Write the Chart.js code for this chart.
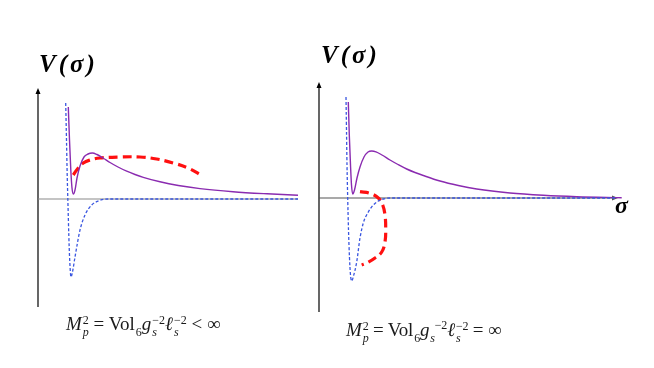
<!DOCTYPE html>
<html>
<head>
<meta charset="utf-8">
<script src="https://cdn.jsdelivr.net/npm/chart.js@4.4.1/dist/chart.umd.min.js"></script>
<style>
  html, body { margin: 0; padding: 0; background: #fff; }
  #wrap { position: relative; width: 654px; height: 368px; overflow: hidden; }
  canvas { position: absolute; left: 0; top: 0; }
  .lbl { position: absolute; font-family: "Liberation Serif", "DejaVu Serif", serif; color: #000; white-space: nowrap; }
  .vlab { font-style: italic; font-weight: bold; font-size: 25px; letter-spacing: 3px; }
  .cap { font-size: 19px; color: #1a1a1a; }
  .cap i { font-style: italic; }
  .ss { display: inline-block; vertical-align: -0.5em; line-height: 1.0; font-size: 12px; text-align: left; margin-left: 1px; }
  .ss span { display: block; }
</style>
</head>
<body>
<div id="wrap">
  <canvas id="left" width="654" height="368"></canvas>
  <canvas id="right" width="654" height="368"></canvas>
  <div class="lbl vlab" style="left:39px; top:50px;">V(σ)</div>
  <div class="lbl vlab" style="left:321px; top:41px;">V(σ)</div>
  <div class="lbl vlab" style="left:615px; top:192px; font-size:24px;">σ</div>
  <div class="lbl cap" style="left:66px; top:313px;"><i>M</i><span class="ss"><span>2</span><span><i>p</i></span></span> = Vol<span class="ss"><span>&nbsp;</span><span>6</span></span><i>g</i><span class="ss"><span>−2</span><span><i>s</i></span></span><i>ℓ</i><span class="ss"><span>−2</span><span><i>s</i></span></span> &lt; ∞</div>
  <div class="lbl cap" style="left:346px; top:318px; letter-spacing:-0.2px;"><i>M</i><span class="ss"><span>2</span><span><i>p</i></span></span> = Vol<span class="ss"><span>&nbsp;</span><span>6</span></span><i>g</i><span class="ss"><span>&nbsp;</span><span><i>s</i></span></span><sup style="font-size:12px">−2</sup><i>ℓ</i><span class="ss"><span>−2</span><span><i>s</i></span></span> = ∞</div>
</div>
<script>
// left panel: finite Planck mass
const leftPotX = [3.03, 3.15, 3.28, 3.40, 3.53, 3.70, 3.90, 4.20, 4.60, 5.00, 5.43, 5.90, 6.50, 7.20, 8.00, 8.87, 9.70, 10.53, 12.2, 14.03, 16.2, 19.5, 22.9, 26.0];
const leftPotY = [0.92, 0.59, 0.29, 0.11, 0.05, 0.09, 0.21, 0.33, 0.42, 0.45, 0.46, 0.445, 0.41, 0.365, 0.32, 0.278, 0.245, 0.217, 0.172, 0.135, 0.104, 0.073, 0.052, 0.037];
const leftBlueX = [2.77, 2.85, 2.92, 3.00, 3.08, 3.17, 3.30, 3.45, 3.70, 4.20, 4.70, 5.37, 6.03, 7.0, 26.0];
const leftBlueY = [0.96, 0.59, 0.24, -0.06, -0.36, -0.61, -0.78, -0.73, -0.58, -0.31, -0.16, -0.06, -0.02, 0.0, 0.0];
const leftRedX = [3.53, 3.87, 4.53, 5.2, 6.2, 8.2, 10.2, 11.87, 13.53, 15.0, 16.47];
const leftRedY = [0.24, 0.29, 0.36, 0.39, 0.41, 0.42, 0.42, 0.40, 0.36, 0.31, 0.23];

// right panel: infinite Planck mass
const rightPotX = [2.93, 3.03, 3.15, 3.25, 3.37, 3.55, 3.8, 4.1, 4.5, 4.9, 5.27, 5.7, 6.3, 7.1, 7.9, 8.77, 9.6, 10.43, 12.1, 13.93, 15.77, 19.1, 22.43, 25.77, 30.27];
const rightPotY = [0.96, 0.63, 0.33, 0.13, 0.04, 0.08, 0.20, 0.31, 0.41, 0.46, 0.47, 0.462, 0.43, 0.38, 0.335, 0.29, 0.255, 0.225, 0.17, 0.125, 0.09, 0.05, 0.027, 0.013, 0.003];
const rightBlueX = [2.7, 2.75, 2.8, 2.87, 2.95, 3.05, 3.15, 3.27, 3.45, 3.77, 4.1, 4.43, 4.93, 5.43, 5.93, 6.43, 7.1, 29.6];
const rightBlueY = [1.01, 0.68, 0.33, 0.0, -0.32, -0.60, -0.77, -0.83, -0.78, -0.64, -0.40, -0.25, -0.14, -0.07, -0.03, -0.01, 0.0, 0.0];
const rightRedX = [4.1, 5.1, 5.93, 6.37, 6.6, 6.67, 6.6, 6.27, 5.6, 4.77, 4.27];
const rightRedY = [0.063, 0.047, 0.0, -0.07, -0.17, -0.30, -0.44, -0.54, -0.60, -0.65, -0.67];

const pts = (xs, ys) => xs.map((x, i) => ({ x: x, y: ys[i] }));

function arrowHead(ctx, x, y, dir) {
  ctx.beginPath();
  if (dir === "up") {
    ctx.moveTo(x, y); ctx.lineTo(x - 2.5, y + 6); ctx.lineTo(x + 2.5, y + 6);
  } else {
    ctx.moveTo(x, y); ctx.lineTo(x - 6, y - 2.5); ctx.lineTo(x - 6, y + 2.5);
  }
  ctx.closePath();
  ctx.fill();
}

const axesPlugin = {
  id: "axes",
  beforeDatasetsDraw(chart, args, opts) {
    const { ctx, chartArea, scales } = chart;
    const x0 = scales.x.getPixelForValue(0);
    const y0 = scales.y.getPixelForValue(0);
    ctx.save();
    ctx.lineWidth = 1.2;
    ctx.strokeStyle = "#000";
    ctx.fillStyle = "#000";
    ctx.beginPath();
    ctx.moveTo(x0, chartArea.bottom);
    ctx.lineTo(x0, chartArea.top + 2);
    ctx.stroke();
    arrowHead(ctx, x0, chartArea.top, "up");
    const xEnd = scales.x.getPixelForValue(opts.xEnd);
    ctx.strokeStyle = opts.xColor;
    ctx.fillStyle = opts.xColor;
    ctx.beginPath();
    ctx.moveTo(x0, y0);
    ctx.lineTo(xEnd, y0);
    ctx.stroke();
    if (opts.xArrow) arrowHead(ctx, xEnd + 3, y0, "right");
    ctx.restore();
  }
};

function makeChart(id, pad, xMax, yMin, yMax, pot, blue, red, axisOpts) {
  return new Chart(document.getElementById(id), {
    type: "scatter",
    data: {
      datasets: [
        { data: blue, borderColor: "#3a56e0", borderWidth: 1.3, borderDash: [3, 2], showLine: true, pointRadius: 0, cubicInterpolationMode: "monotone", clip: false },
        { data: pot, borderColor: "#8a2bb0", borderWidth: 1.4, showLine: true, pointRadius: 0, cubicInterpolationMode: "monotone", clip: false },
        { data: red, borderColor: "#ff1010", borderWidth: 3.2, borderDash: [9, 5], showLine: true, pointRadius: 0, tension: 0.4, clip: false }
      ]
    },
    options: {
      responsive: false,
      animation: false,
      layout: { padding: pad },
      plugins: { legend: { display: false }, tooltip: { enabled: false }, axes: axisOpts },
      scales: {
        x: { type: "linear", display: false, min: 0, max: xMax },
        y: { type: "linear", display: false, min: yMin, max: yMax }
      }
    },
    plugins: [axesPlugin]
  });
}

makeChart("left", { left: 38, top: 88, right: 356, bottom: 61 }, 26, -1.08, 1.11,
  pts(leftPotX, leftPotY), pts(leftBlueX, leftBlueY), pts(leftRedX, leftRedY),
  { xEnd: 26, xColor: "#8a8a8a", xArrow: false });
makeChart("right", { left: 319, top: 82, right: 35, bottom: 56 }, 30, -1.14, 1.16,
  pts(rightPotX, rightPotY), pts(rightBlueX, rightBlueY), pts(rightRedX, rightRedY),
  { xEnd: 29.6, xColor: "#555", xArrow: true });
</script>
</body>
</html>
